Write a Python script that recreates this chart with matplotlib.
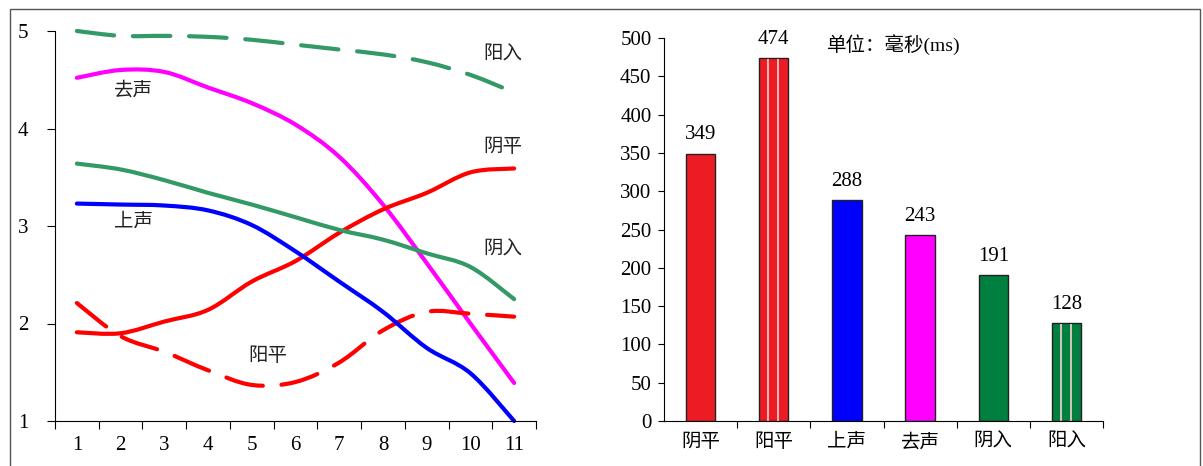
import numpy as np
import matplotlib.pyplot as plt
from matplotlib.path import Path
from matplotlib.patches import PathPatch, Rectangle

plt.rcParams['font.family'] = ['Liberation Serif', 'Noto Sans CJK SC']

# left: pitch contours (5-level scale), 11 sample points
points = list(range(1, 12))
yinping = [1.91, 1.90, 2.02, 2.14, 2.43, 2.64, 2.93, 3.17, 3.34, 3.55, 3.59]
yangping = [2.21, 1.87, 1.71, 1.52, 1.37, 1.40, 1.60, 1.93, 2.12, 2.10, 2.07]
shangsheng = [3.23, 3.22, 3.21, 3.16, 3.01, 2.74, 2.43, 2.12, 1.75, 1.49, 1.00]
qusheng = [4.52, 4.60, 4.58, 4.42, 4.26, 4.04, 3.71, 3.22, 2.62, 2.00, 1.39]
yinru = [3.64, 3.58, 3.47, 3.34, 3.22, 3.09, 2.96, 2.86, 2.72, 2.58, 2.25]
yangru = [5.00, 4.95, 4.95, 4.94, 4.91, 4.86, 4.81, 4.76, 4.68, 4.55, 4.37]

# right: durations (ms)
tones = ['阴平', '阳平', '上声', '去声', '阴入', '阳入']
durations = [349, 474, 288, 243, 191, 128]

RED = '#FF0000'
GREEN = '#339966'


def smooth_path(xs, ys):
    # Catmull-Rom style bezier, like spreadsheet "smoothed line"
    p = np.column_stack([xs, ys]).astype(float)
    n = len(p)
    verts = [p[0]]
    codes = [Path.MOVETO]
    for i in range(n - 1):
        p0 = p[i - 1] if i > 0 else p[i]
        p3 = p[i + 2] if i + 2 < n else p[i + 1]
        c1 = p[i] + (p[i + 1] - p0) / 6
        c2 = p[i + 1] - (p3 - p[i]) / 6
        verts += [c1, c2, p[i + 1]]
        codes += [Path.CURVE4] * 3
    return Path(verts, codes)


def add_curve(ax, ys, color, dashed=False):
    patch = PathPatch(smooth_path(points, ys), fill=False, edgecolor=color,
                      lw=3, capstyle='round', joinstyle='round', clip_on=False)
    if dashed:
        patch.set_linestyle((0, (9, 4.5)))
    ax.add_patch(patch)


fig = plt.figure(figsize=(12.03, 4.66), dpi=100)
fig.add_artist(Rectangle((10 / 1203, -0.05), 1190 / 1203, 1.05 - 9 / 466,
                         transform=fig.transFigure, fill=False,
                         edgecolor='#555555', lw=1))

ax1 = fig.add_axes([55 / 1203, 45 / 466, 481 / 1203, 390 / 466])
add_curve(ax1, yangru, GREEN, dashed=True)
add_curve(ax1, qusheng, '#FF00FF')
add_curve(ax1, yinping, RED)
add_curve(ax1, yangping, RED, dashed=True)
add_curve(ax1, yinru, GREEN)
add_curve(ax1, shangsheng, '#0000FF')

ax1.set_xlim(0.5, 11.5)
ax1.set_ylim(1, 5)
ax1.set_xticks(np.arange(0.5, 12, 1))
ax1.set_xticklabels([])
ax1.set_xticks(points, minor=True)
ax1.set_xticklabels([str(p) for p in points], minor=True)
ax1.tick_params(axis='x', which='major', length=6, direction='out')
ax1.tick_params(axis='x', which='minor', length=0, pad=11, labelsize=15)
ax1.set_yticks([1, 2, 3, 4, 5])
ax1.tick_params(axis='y', length=6, pad=13, labelsize=15)
for s in ['top', 'right']:
    ax1.spines[s].set_visible(False)

lab = dict(fontsize=14, color='#222222')
ax1.text(2.3, 4.39, '去声', ha='center', va='center', **lab)
ax1.text(2.3, 3.04, '上声', ha='center', va='center', **lab)
ax1.text(5.37, 1.66, '阳平', ha='center', va='center', **lab)
ax1.text(10.75, 4.75, '阳入', ha='center', va='center', **lab)
ax1.text(10.75, 3.81, '阴平', ha='center', va='center', **lab)
ax1.text(10.75, 2.75, '阴入', ha='center', va='center', **lab)

# right: bar chart
ax2 = fig.add_axes([664 / 1203, 45 / 466, 439 / 1203, 383 / 466])
x = np.arange(len(tones))
colors = ['#ED1C24', '#ED1C24', '#0000FF', '#FF00FF', '#007F3F', '#007F3F']
bw = 0.4
ax2.bar(x, durations, width=bw, color=colors, edgecolor='#222222', lw=1)
# white pinstripes on the 阳 tones
for i in [1, 5]:
    ax2.vlines([x[i] - bw / 2 + bw * 0.31, x[i] - bw / 2 + bw * 0.65],
               0, durations[i] - 2, colors='#F4D6D6', lw=1.2)
for xi, v in zip(x, durations):
    ax2.text(xi, v + 12, str(v), ha='center', va='bottom', fontsize=15)
ax2.text(1.73, 491, '单位：毫秒(ms)', ha='left', va='center', fontsize=14)

ax2.set_xlim(-0.5, 5.5)
ax2.set_ylim(0, 500)
ax2.set_yticks(np.arange(0, 501, 50))
ax2.set_xticks(np.arange(0.5, 5.6, 1))
ax2.set_xticklabels([])
ax2.set_xticks(x, minor=True)
ax2.set_xticklabels(tones, minor=True)
ax2.tick_params(axis='x', which='major', length=5)
ax2.tick_params(axis='x', which='minor', length=0, pad=9, labelsize=14)
ax2.tick_params(axis='y', length=4, pad=5, labelsize=15)
for s in ['top', 'right']:
    ax2.spines[s].set_visible(False)

fig.savefig('out.png', dpi=100)
